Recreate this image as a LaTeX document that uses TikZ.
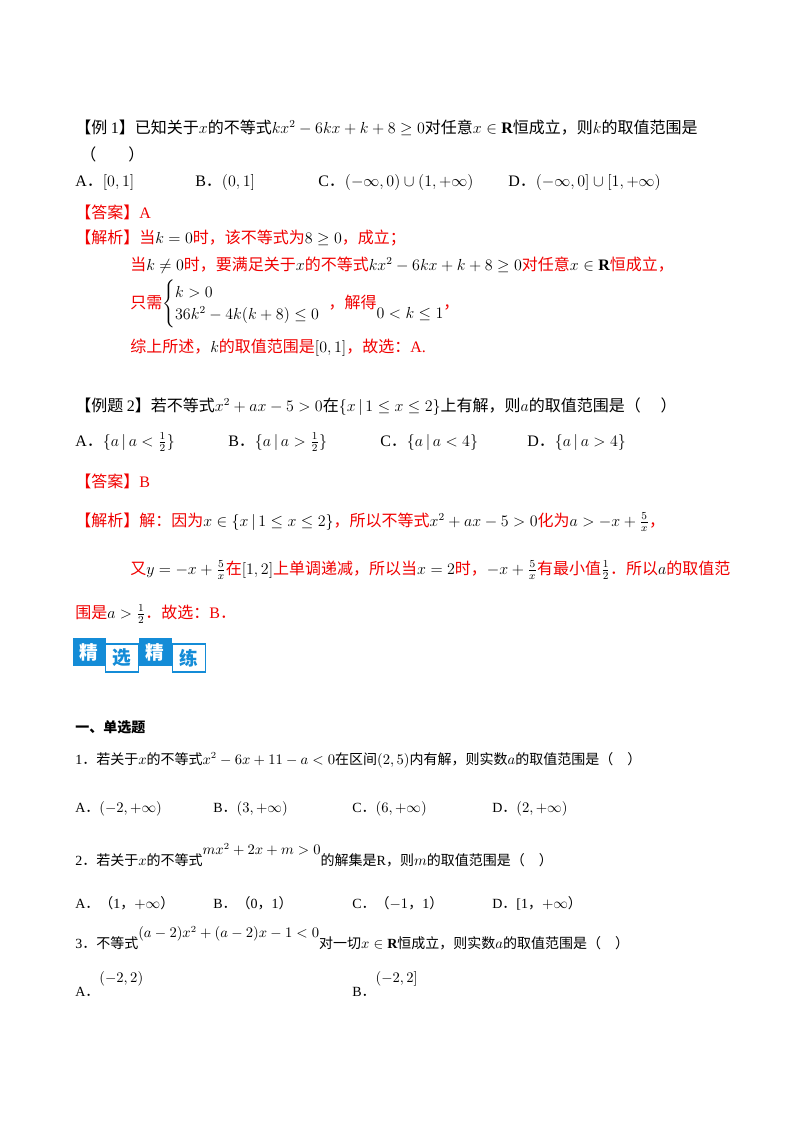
\documentclass[tikz,border=0pt]{standalone}
\usepackage{amsmath,amssymb}
\usepackage{fontspec}
\setmainfont{Liberation Serif}
\newfontfamily\cjk{Noto Sans CJK SC}
\newcommand{\lt}[1]{{\rmfamily #1}}
\definecolor{ans}{RGB}{240,0,0}
\definecolor{badge}{RGB}{20,140,215}
\begin{document}
\begin{tikzpicture}[x=0.75pt,y=-0.75pt,
  t/.style={anchor=base west,inner sep=0pt,font=\cjk\fontsize{12}{14}\selectfont},
  s/.style={anchor=base west,inner sep=0pt,font=\cjk\fontsize{10.5}{13}\selectfont},
  r/.style={t,text=ans},
  bf/.style={minimum width=24.75pt,minimum height=21pt,inner sep=0pt,font=\cjk\bfseries\fontsize{14}{14}\selectfont},
  bfill/.style={bf,fill=badge,text=white},
  bline/.style={bf,draw=badge,line width=1pt,fill=white,text=badge}]
\useasboundingbox (0,0) rectangle (800,1132);
\node[t] (l1) at (75,133) {【例 \lt{1}】已知关于$x$的不等式$kx^2-6kx+k+8\ge 0$对任意$x\in\mathbf{R}$恒成立，则$k$的取值范围是};
\node[t] (l2) at (80,160) {（\qquad）};
\node[t] (a1) at (75,186) {\lt{A}．$[0,1]$};
\node[t] (b1) at (195,186) {\lt{B}．$(0,1]$};
\node[t] (c1) at (318,186) {\lt{C}．$(-\infty,0)\cup(1,+\infty)$};
\node[t] (d1) at (508,186) {\lt{D}．$(-\infty,0]\cup[1,+\infty)$};
\node[r] (ans1) at (75,218) {【答案】\lt{A}};
\node[r] (j1) at (75,243) {【解析】当\textcolor{black}{$k=0$}时，该不等式为\textcolor{black}{$8\ge0$}，成立；};
\node[r] (j2) at (130,270) {当\textcolor{black}{$k\ne0$}时，要满足关于\textcolor{black}{$x$}的不等式\textcolor{black}{$kx^2-6kx+k+8\ge0$}对任意\textcolor{black}{$x\in\mathbf{R}$}恒成立，};
\node[r] (j3) at (130,308) {只需\textcolor{black}{$\begin{cases}k>0\\36k^2-4k(k+8)\le0\end{cases}$}\hspace{-6pt}，解得\textcolor{black}{\raisebox{-8pt}{$0<k\le1$}}，};
\node[r] (j4) at (130,352) {综上所述，\textcolor{black}{$k$}的取值范围是\textcolor{black}{$[0,1]$}，故选：\lt{A.}};
\node[t] (e2) at (75,411) {【例题 \lt{2}】若不等式$x^2+ax-5>0$在$\{x\,|\,1\le x\le2\}$上有解，则$a$的取值范围是（\quad\ ）};
\node[t] (a2) at (75,446) {\lt{A}．$\{a\,|\,a<\tfrac12\}$};
\node[t] (b2) at (228,446) {\lt{B}．$\{a\,|\,a>\tfrac12\}$};
\node[t] (c2) at (380,446) {\lt{C}．$\{a\,|\,a<4\}$};
\node[t] (d2) at (527,446) {\lt{D}．$\{a\,|\,a>4\}$};
\node[r] (ans2) at (75,487) {【答案】\lt{B}};
\node[r] (k1) at (75,526) {【解析】解：因为\textcolor{black}{$x\in\{x\,|\,1\le x\le2\}$}，所以不等式\textcolor{black}{$x^2+ax-5>0$}化为\textcolor{black}{$a>-x+\frac5x$}，};
\node[r] (k2) at (130,574) {又\textcolor{black}{$y=-x+\frac5x$}在\textcolor{black}{$[1,2]$}上单调递减，所以当\textcolor{black}{$x=2$}时，\textcolor{black}{$-x+\frac5x$}有最小值\textcolor{black}{$\frac12$}．所以\textcolor{black}{$a$}的取值范};
\node[r] (k3) at (75,618) {围是\textcolor{black}{$a>\frac12$}．故选：\lt{B}．};
\node[bfill] (g1) at (89,652) {精};
\node[bline] (g2) at (122,658) {选};
\node[bfill] (g3) at (155,652) {精};
\node[bline] (g4) at (189,658) {练};
\node[s,font=\cjk\bfseries\fontsize{10.5}{13}\selectfont] (h) at (75,732) {一、单选题};
\node[s] (q1) at (75,764) {\lt{1}．若关于$x$的不等式$x^2-6x+11-a<0$在区间$(2,5)$内有解，则实数$a$的取值范围是（\quad ）};
\node[s] (q1a) at (75,812) {\lt{A}．$(-2,+\infty)$};
\node[s] (q1b) at (213,812) {\lt{B}．$(3,+\infty)$};
\node[s] (q1c) at (352,812) {\lt{C}．$(6,+\infty)$};
\node[s] (q1d) at (492,812) {\lt{D}．$(2,+\infty)$};
\node[s] (q2) at (75,865) {\lt{2}．若关于$x$的不等式\raisebox{8pt}{$mx^2+2x+m>0$}的解集是\lt{R}，则$m$的取值范围是（\quad ）};
\node[s] (q2a) at (75,908) {\lt{A}．（\lt{1}，$+\infty$）};
\node[s] (q2b) at (213,908) {\lt{B}．（\lt{0}，\lt{1}）};
\node[s] (q2c) at (352,908) {\lt{C}．（$-1$，\lt{1}）};
\node[s] (q2d) at (492,908) {\lt{D}．\lt{[1}，$+\infty$）};
\node[s] (q3) at (75,948) {\lt{3}．不等式\raisebox{8pt}{$(a-2)x^2+(a-2)x-1<0$}对一切$x\in\mathbf{R}$恒成立，则实数$a$的取值范围是（\quad ）};
\node[s] (q3a) at (75,996) {\lt{A}．\raisebox{10pt}{$(-2,2)$}};
\node[s] (q3b) at (352,996) {\lt{B}．\raisebox{10pt}{$(-2,2]$}};
\end{tikzpicture}
\end{document}
